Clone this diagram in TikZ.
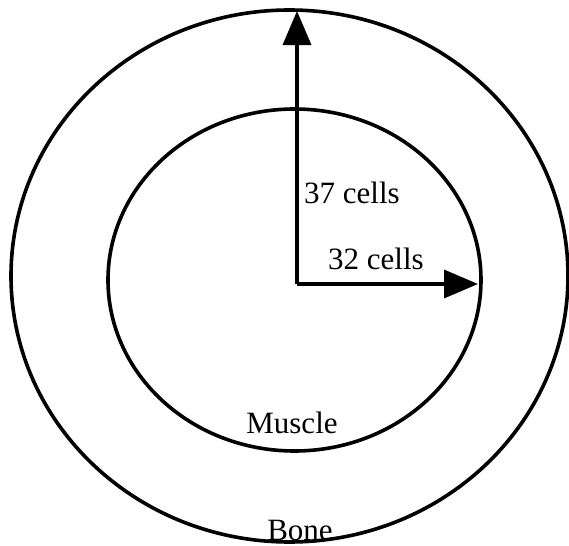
\documentclass[tikz,border=0pt]{standalone}
\usepackage{fontspec}
\setmainfont{Liberation Serif}
\usetikzlibrary{arrows.meta}

\begin{document}
\begin{tikzpicture}[x=0.5pt, y=-0.5pt,
  ring/.style={line width=1.8pt},
  arr/.style={-{Triangle[length=17pt, width=14pt]}, line width=1.8pt},
  lbl/.style={font=\fontsize{15.5}{18}\selectfont, inner sep=0pt}]
\useasboundingbox (0,0) rectangle (569,546);

\draw[ring] (289.5,276) ellipse [x radius=278.5, y radius=266];
\draw[ring] (294.5,280) ellipse [x radius=186.5, y radius=171];

\coordinate (centre) at (297,284);
\coordinate (bonerim) at (297,11);
\coordinate (musclerim) at (478,284);

\draw[arr] (centre) -- (bonerim);
\draw[arr] (centre) -- (musclerim);

\node[lbl] (bonelen) at (352,193) {37 cells};
\node[lbl] (musclelen) at (376,259) {32 cells};
\node[lbl] (muscle) at (292,423) {Muscle};
\node[lbl] (bone) at (300,531) {Bone};
\end{tikzpicture}
\end{document}
